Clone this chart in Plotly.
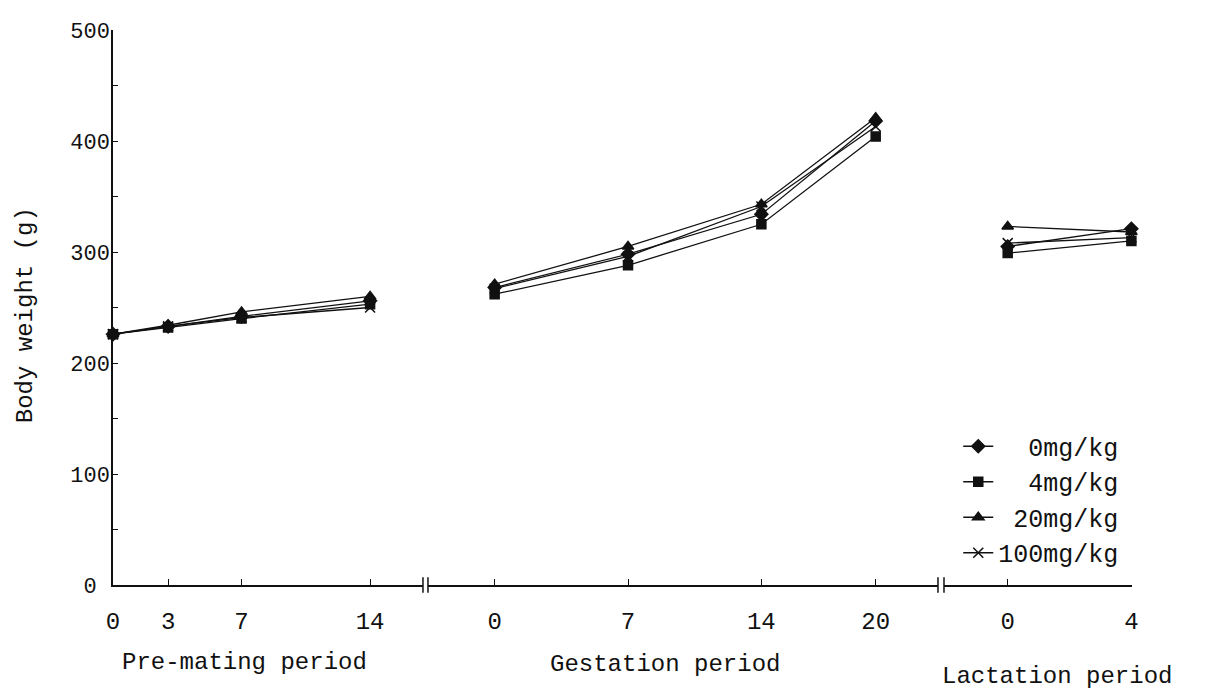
import plotly.graph_objects as go

# ---- data ----
days_premating = [0, 3, 7, 14]
days_gestation = [0, 7, 14, 20]
days_lactation = [0, 4]

series_names = ["0mg/kg", "4mg/kg", "20mg/kg", "100mg/kg"]

premating_0 = [226, 233, 242, 256]
premating_4 = [226, 232, 240, 253]
premating_20 = [226, 234, 246, 260]
premating_100 = [226, 233, 241, 250]

gestation_0 = [268, 298, 334, 418]
gestation_4 = [262, 288, 325, 404]
gestation_20 = [271, 305, 343, 421]
gestation_100 = [267, 296, 341, 413]

lactation_0 = [305, 321]
lactation_4 = [299, 310]
lactation_20 = [323, 318]
lactation_100 = [308, 313]

y_tickvals = [0, 50, 100, 150, 200, 250, 300, 350, 400, 450, 500]
y_ticktext = ["0\u00a0", "", "100", "", "200", "", "300", "", "400", "", "500"]

period_titles = ["Pre-mating period", "Gestation period", "Lactation period"]
y_title = "Body weight (g)"

# ---- styling ----
FONT = "Liberation Mono, Courier New, monospace"
INK = "#111111"
legend_labels = ["\u00a0\u00a00mg/kg", "\u00a0\u00a04mg/kg", "\u00a020mg/kg", "100mg/kg"]
symbols = ["diamond", "square", "triangle-up", "x-thin"]
msizes = [10, 9, 10, 10]

values = [
    (premating_0, gestation_0, lactation_0),
    (premating_4, gestation_4, lactation_4),
    (premating_20, gestation_20, lactation_20),
    (premating_100, gestation_100, lactation_100),
]

fig = go.Figure()
axes = [("x", days_premating), ("x2", days_gestation), ("x3", days_lactation)]
for i, name in enumerate(series_names):
    for j, (xa, days) in enumerate(axes):
        marker = dict(symbol=symbols[i], size=msizes[i], color=INK,
                      line=dict(color=INK, width=1.5))
        fig.add_trace(go.Scatter(
            x=days, y=values[i][j], xaxis=xa, yaxis="y",
            mode="lines+markers", name=legend_labels[i],
            legendgroup=name, showlegend=(j == 0),
            line=dict(color=INK, width=1.3), marker=marker,
            cliponaxis=False,
        ))

xcommon = dict(showgrid=False, zeroline=False, showline=True, linecolor=INK,
               linewidth=1.5, ticks="inside", ticklen=6, tickwidth=1.2,
               tickcolor=INK, tickfont=dict(family=FONT, size=24, color=INK),
               ticklabelstandoff=13, anchor="y")

d1 = [0.0, 0.3042]
d2 = [0.3091, 0.8096]
d3 = [0.8155, 1.0]

fig.update_layout(
    width=1200, height=681,
    margin=dict(l=105, r=76, t=17, b=104),
    paper_bgcolor="white", plot_bgcolor="white",
    font=dict(family=FONT, color=INK),
    xaxis=dict(domain=d1, range=[0, 16.88], tickvals=days_premating,
               ticktext=[str(d) for d in days_premating], **xcommon),
    xaxis2=dict(domain=d2, range=[-3.50, 23.27], tickvals=days_gestation,
                ticktext=[str(d) for d in days_gestation], **xcommon),
    xaxis3=dict(domain=d3, range=[-2.06, 4.02], tickvals=days_lactation,
                ticktext=[str(d) for d in days_lactation], **xcommon),
    yaxis=dict(range=[0, 500], tickvals=y_tickvals, ticktext=y_ticktext,
               showgrid=False, zeroline=False, showline=True, linecolor=INK,
               linewidth=1.5, ticks="inside", ticklen=5, tickwidth=1.2,
               tickcolor=INK, tickfont=dict(family=FONT, size=22, color=INK),
               ticklabelstandoff=-3, anchor="x"),
    showlegend=True,
    legend=dict(x=0.8295, y=0.291, xanchor="left", yanchor="top",
                bgcolor="rgba(0,0,0,0)", borderwidth=0,
                font=dict(family=FONT, size=25, color=INK),
                tracegroupgap=0, itemwidth=30),
)

# axis-break marks
for xb in [d1[1], d2[0], d2[1], d3[0]]:
    fig.add_shape(type="line", xref="paper", yref="paper",
                  x0=xb, x1=xb, y0=-0.014, y1=0.014,
                  line=dict(color=INK, width=1.5))

# period titles and y title
title_pos = [(0.1295, -0.139), (0.5417, -0.143), (0.926, -0.164)]
for txt, (px, py) in zip(period_titles, title_pos):
    fig.add_annotation(text=txt, xref="paper", yref="paper", x=px, y=py,
                       showarrow=False, font=dict(family=FONT, size=24, color=INK),
                       xanchor="center", yanchor="middle")
fig.add_annotation(text=y_title, xref="paper", yref="paper", x=-0.0864, y=0.486,
                   textangle=-90, showarrow=False,
                   font=dict(family=FONT, size=24, color=INK),
                   xanchor="center", yanchor="middle")

fig.write_html("out.html")
